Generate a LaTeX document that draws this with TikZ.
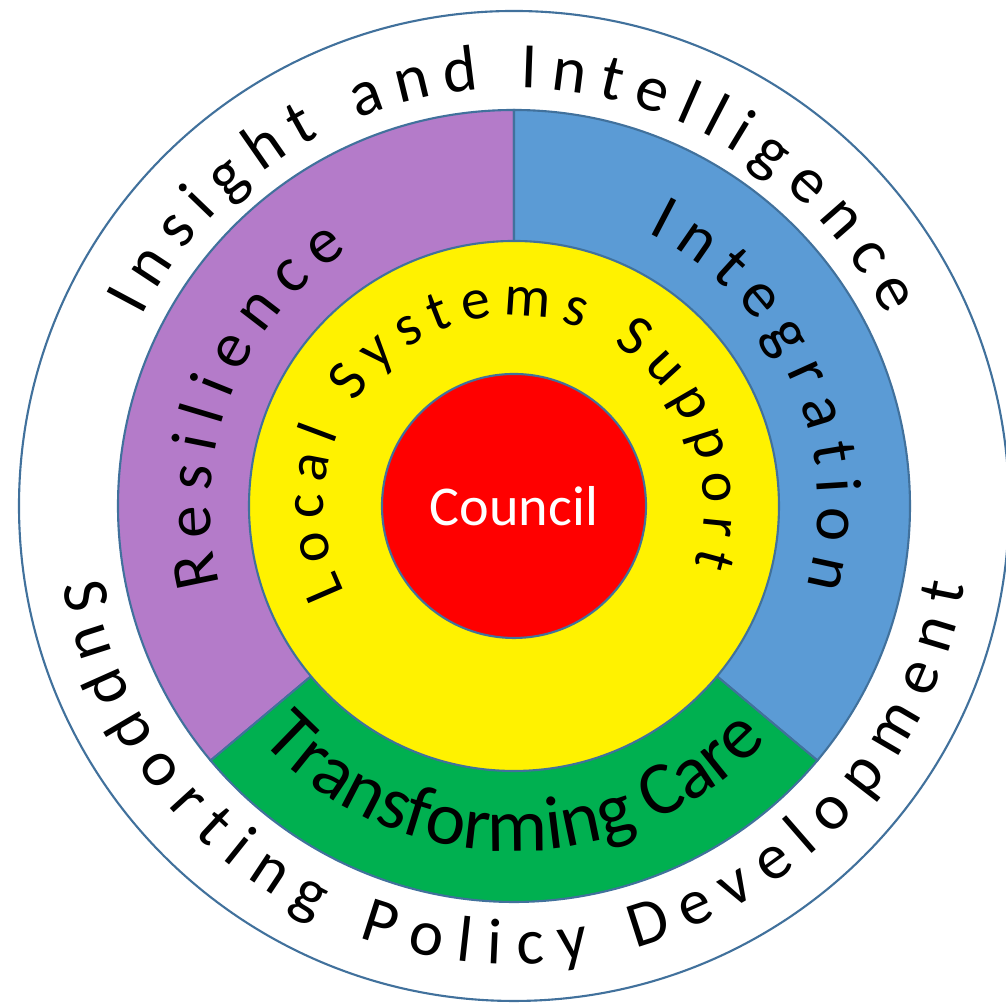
\documentclass[tikz,border=0pt]{standalone}
\usepackage{fontspec}
\setmainfont{Carlito}
\usetikzlibrary{decorations.text}
\definecolor{ringline}{HTML}{41719C}
\definecolor{resil}{HTML}{B47BC9}
\definecolor{integ}{HTML}{5B9BD5}
\definecolor{transf}{HTML}{00B050}
\newcommand\bandfont{\fontsize{18.5}{20}\selectfont}
\newcommand\localfont{\fontsize{16.5}{18}\selectfont}
\newcommand\carefont{\fontsize{21.5}{23}\selectfont}
\tikzset{
  ring/.style={draw=ringline, line width=0.6pt},
  arctext/.style={decorate, decoration={text along path, text={#1}, text align={fit to path}}},
}
\begin{document}
\begin{tikzpicture}
\def\Rbig{4.95}
\def\Rout{3.96}
\def\Rin{2.65}
\useasboundingbox (-5.14,-4.97) rectangle (4.92,5.06);
\draw[ring, fill=white] (0,0) circle[radius=\Rbig];
% the three ring sectors
\filldraw[ring, fill=resil] (0,0) -- (90:\Rout) arc[start angle=90, end angle=220, radius=\Rout] -- cycle;
\filldraw[ring, fill=integ] (0,0) -- (-40:\Rout) arc[start angle=-40, end angle=90, radius=\Rout] -- cycle;
\filldraw[ring, fill=transf] (0,0) -- (220:\Rout) arc[start angle=220, end angle=320, radius=\Rout] -- cycle;
\filldraw[ring, fill=yellow] (0,0) circle[radius=\Rin];
\node[ring, circle, fill=red, minimum size=2.64cm, inner sep=0pt, text=white,
  font=\fontsize{16}{18}\selectfont] (council) at (0,0) {Council};
% texts along the arcs
\path[arctext={|\bandfont|Insight and Intelligence}] (153:4.18) arc[start angle=153, end angle=27, radius=4.18];
\path[arctext={|\bandfont|Supporting Policy Development}] (190:4.58) arc[start angle=190, end angle=350, radius=4.58];
\path[arctext={|\bandfont|Resilience}] (195:3.04) arc[start angle=195, end angle=123, radius=3.04];
\path[arctext={|\bandfont|Integration}] (64:3.04) arc[start angle=64, end angle=-15.5, radius=3.04];
\path[arctext={|\localfont|Local Systems Support}] (207:1.9) arc[start angle=207, end angle=-18, radius=1.9];
\path[decorate, decoration={text along path, text={|\carefont|Transforming Care}, text align=center}]
  (212:3.45) arc[start angle=212, end angle=328, radius=3.45];
\end{tikzpicture}
\end{document}
